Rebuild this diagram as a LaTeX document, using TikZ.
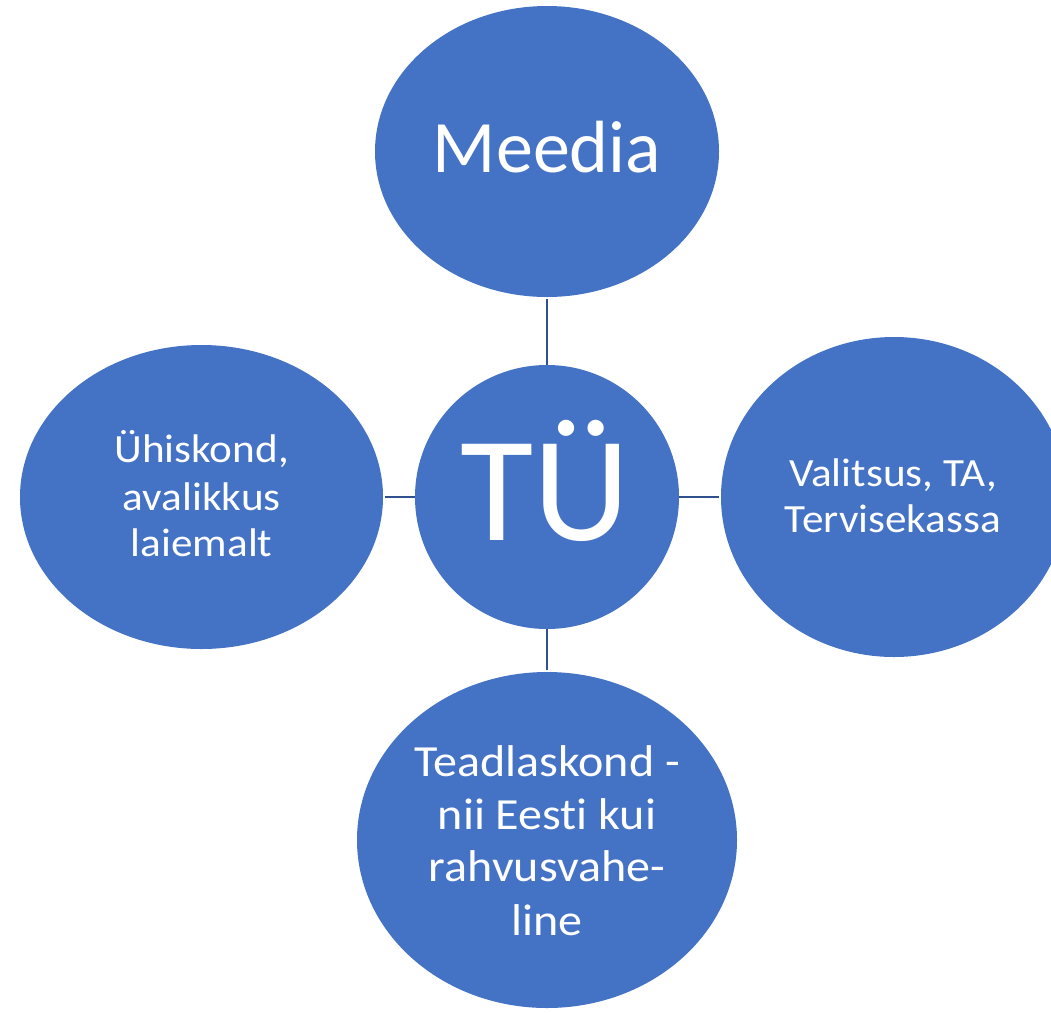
\documentclass[tikz,border=0pt]{standalone}
\usepackage{fontspec}
\setmainfont{Carlito}[Ligatures=NoCommon]
\newfontfamily\widefnt{Carlito}[FakeStretch=1.08,Ligatures=NoCommon]
\usetikzlibrary{shapes.geometric}
\definecolor{bluefill}{HTML}{4472C4}
\definecolor{blueline}{HTML}{2F528F}
\tikzset{
  blob/.style={ellipse, fill=bluefill, draw=none, inner sep=0pt},
  conn/.style={draw=blueline, line width=2pt},
  lbl/.style={text=white, anchor=base, inner sep=0pt},
  mid/.style={lbl, font=\widefnt\fontsize{40}{48}\selectfont},
  big/.style={lbl, font=\widefnt\fontsize{44.5}{53}\selectfont},
}
\begin{document}
\begin{tikzpicture}[x=1pt,y=-1pt]
\useasboundingbox (0,0) rectangle (1051,1012);
% ellipses
\node[blob, minimum width=344pt, minimum height=291pt] (meedia) at (547,151.5) {};
\node[blob, minimum width=264pt, minimum height=264pt] (tu) at (547,497) {};
\node[blob, minimum width=363pt, minimum height=304pt] (yhis) at (201.5,497) {};
\node[blob, minimum width=346pt, minimum height=320pt] (valit) at (894,497) {};
\node[blob, minimum width=380pt, minimum height=336pt] (teadl) at (547,840) {};
% connectors
\draw[conn, shorten <=2pt] (meedia) -- (tu);
\draw[conn, shorten <=2pt] (yhis) -- (tu);
\draw[conn, shorten <=2pt] (valit) -- (tu);
\draw[conn, shorten <=2pt] (teadl) -- (tu);
% texts
\node[lbl, font=\fontsize{74}{90}\selectfont] (tmeedia) at (547,172.7) {Meedia};
\node[lbl, font=\fontsize{150}{180}\selectfont] (ttu) at (545,540.7) {TÜ};
\node[mid] (ty1) at (201.7,462.7) {Ühiskond,};
\node[mid] (ty2) at (201.7,510) {avalikkus};
\node[mid] (ty3) at (201.7,556.7) {laiemalt};
\node[mid] (tv1) at (893,486) {Valitsus, TA,};
\node[mid] (tv2) at (893,532.3) {Tervisekassa};
\node[big] (tt1) at (547,776.7) {Teadlaskond -};
\node[big] (tt2) at (547,829.3) {nii Eesti kui};
\node[big] (tt3) at (547,881.7) {rahvusvahe-};
\node[big] (tt4) at (547,935) {line};
\end{tikzpicture}
\end{document}
